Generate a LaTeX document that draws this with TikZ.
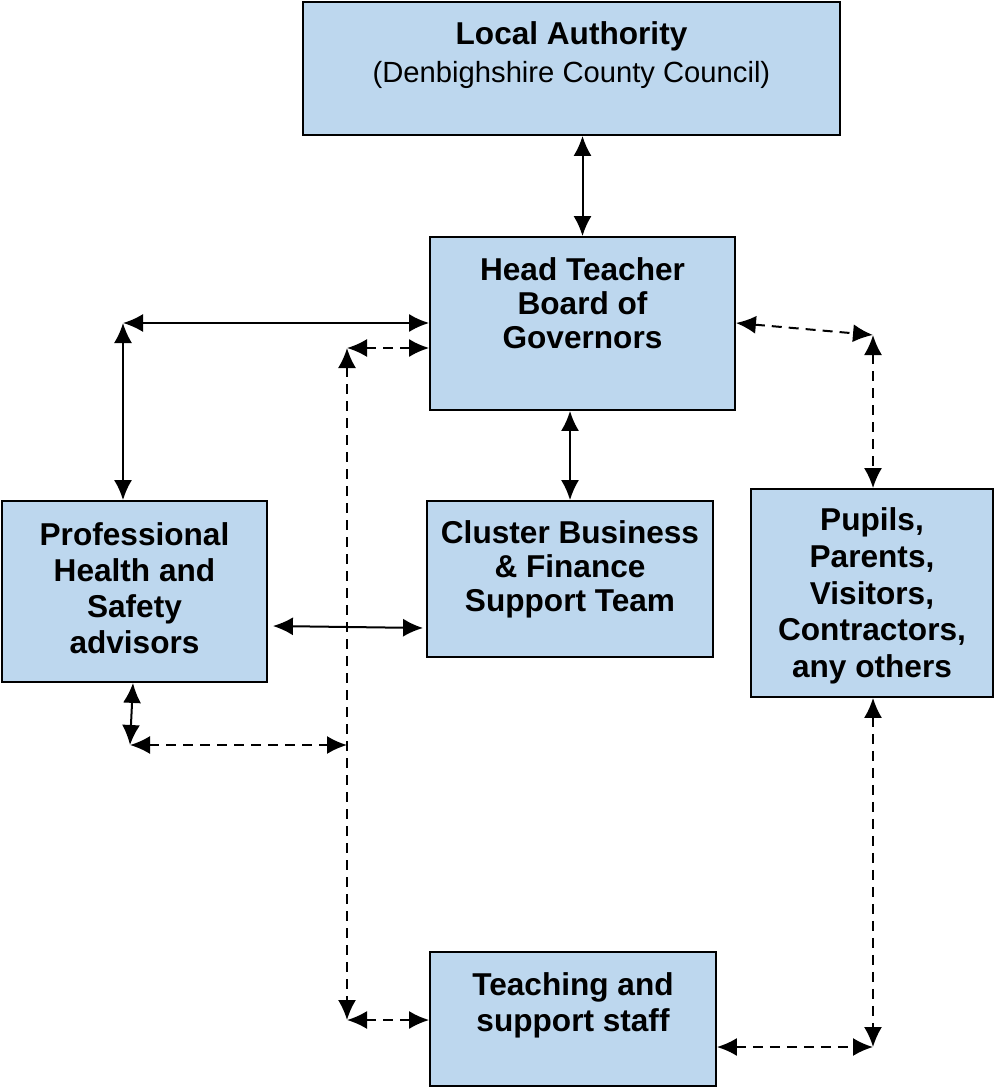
\documentclass[tikz,border=0pt]{standalone}
\usepackage{fontspec}
\setmainfont{Liberation Sans}
\usepackage{xcolor}
\usepackage{tikz}
\usetikzlibrary{arrows.meta}

\definecolor{boxblue}{RGB}{189,215,238}

\tikzset{
	box/.style={draw=black, line width=0.9pt, fill=boxblue, align=center, inner sep=2pt,
		font=\fontsize{15.8}{18}\selectfont\bfseries},
	twoway/.style={{Latex[length=10pt,width=9pt]}-{Latex[length=10pt,width=9pt]}},
	dashline/.style={twoway, dash pattern=on 5pt off 3.5pt}
}

\begin{document}
\begin{tikzpicture}[x=0.5pt, y=-0.5pt, line width=1pt]

			\useasboundingbox (0,0) rectangle (993,1091);

			\node [box, minimum width=268.5pt, minimum height=66.5pt, text depth=16pt] (la) at (571.5,68.5)
				{Local Authority\\[1pt]{\fontsize{14.6}{18}\selectfont\mdseries (Denbighshire County Council)}};
			\node [box, minimum width=152.5pt, minimum height=86.5pt, text depth=20pt] (head) at (582.5,323.5)
				{Head Teacher\\[-1pt]Board of\\[-1pt]Governors};
			\node [box, minimum width=132.5pt, minimum height=90.5pt, text depth=3pt] (prof) at (134.5,591.5)
				{Professional\\Health and\\Safety\\advisors};
			\node [box, minimum width=143pt, minimum height=78pt, text depth=13pt] (cluster) at (570,579)
				{Cluster Business\\[-1pt]\& Finance\\[-1pt]Support Team};
			\node [box, minimum width=121pt, minimum height=104pt, text depth=0.3pt] (pupils) at (872,593)
				{Pupils,\\[0.3pt]Parents,\\[0.3pt]Visitors,\\[0.3pt]Contractors,\\[0.3pt]any others};
			\node [box, minimum width=143pt, minimum height=67pt, text depth=17pt] (staff) at (573,1019)
				{Teaching and\\support staff};

			% corners of the connector runs
			\coordinate (pcorner) at (123,323);
			\coordinate (hdash) at (347,348);
			\coordinate (sdash) at (347,1020);
			\coordinate (pucorner) at (873,335);
			\coordinate (pubot) at (873,1047);
			\coordinate (prbot) at (130,745);
			\coordinate (prmid) at (347,745);

			\draw [twoway] (la.south -| head) -- (head.north);
			\draw [twoway] (head.south -| cluster) -- (cluster.north);
			\draw [twoway] (pcorner) -- (head.west |- pcorner);
			\draw [twoway] (pcorner) -- (prof.north -| pcorner);
			\draw [twoway] ([shift={(5,34.5)}]prof.east) -- ([shift={(-3,49)}]cluster.west);
			\draw [twoway] ([xshift=-0.75pt]prof.south) -- (prbot);

			\draw [dashline] (hdash) -- (head.west |- hdash);
			\draw [dashline] (hdash) -- (sdash);
			\draw [dashline] (sdash) -- (staff.west |- sdash);
			\draw [dashline] (prbot) -- (prmid);
			\draw [dashline] (head.east |- pcorner) -- (pucorner);
			\draw [dashline] (pucorner) -- (pupils.north -| pucorner);
			\draw [dashline] (pupils.south -| pubot) -- (pubot);
			\draw [dashline] (staff.east |- pubot) -- (pubot);

		\end{tikzpicture}
\end{document}
